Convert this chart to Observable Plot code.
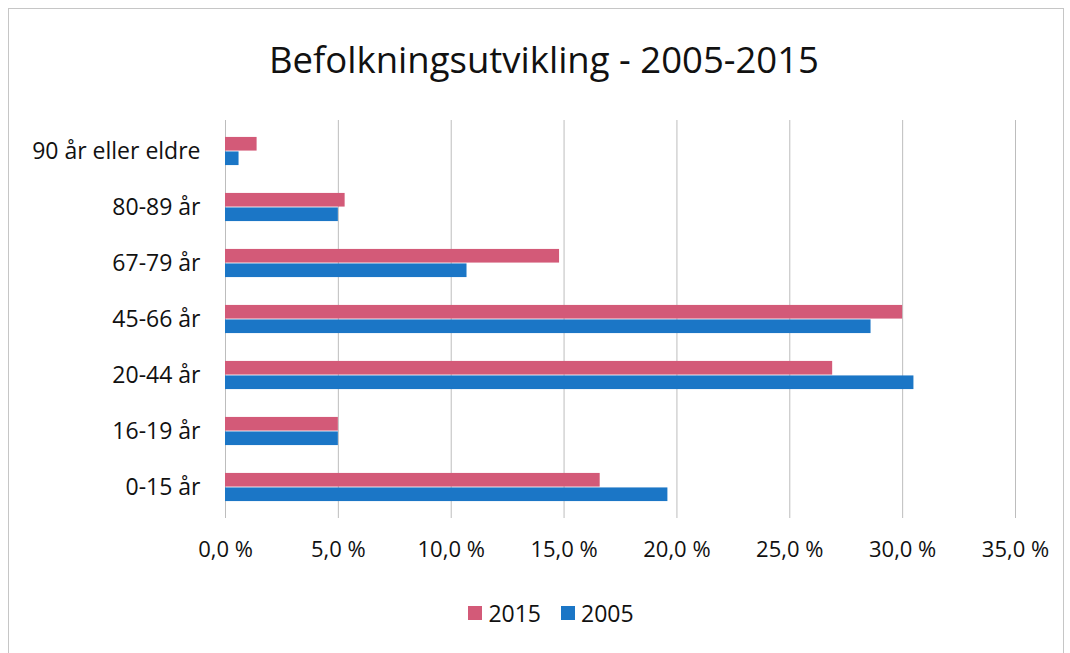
<!DOCTYPE html>
<html><head><meta charset="utf-8">
<script src="https://cdn.jsdelivr.net/npm/d3@7"></script>
<script src="https://cdn.jsdelivr.net/npm/@observablehq/plot@0.6"></script>
<style>
body{margin:0;background:#fff;font-family:"Open Sans",sans-serif;color:#111}
#wrap{position:relative;width:1070px;height:653px;overflow:hidden;background:#fff}
#frame{position:absolute;left:8px;top:8px;width:1054px;height:720px;border:1px solid #c6c6c6}
#title{position:absolute;left:0;top:0;width:1070px;height:118px;display:flex;align-items:center;justify-content:center;font-size:36.5px;padding-left:18px;box-sizing:border-box;color:#111}
#chart{position:absolute;left:0;top:100px}
#legend{position:absolute;left:0;top:593px;width:1070px;height:40px;display:flex;align-items:center;justify-content:center;gap:20px;font-size:23px;padding-left:32px;box-sizing:border-box}
.sw{display:inline-flex;align-items:center;gap:6px}
.sq{width:14px;height:14px;display:inline-block}
</style></head>
<body><div id="wrap"><div id="frame"></div><div id="title"></div><div id="chart"></div><div id="legend"></div></div>
<script>
const title = "Befolkningsutvikling - 2005-2015";
const ages = ["90 år eller eldre","80-89 år","67-79 år","45-66 år","20-44 år","16-19 år","0-15 år"];
const series = ["2015","2005"];
const v2015 = [1.4, 5.3, 14.8, 30.0, 26.9, 5.0, 16.6];
const v2005 = [0.6, 5.0, 10.7, 28.6, 30.5, 5.0, 19.6];
const xTicks = [0, 5, 10, 15, 20, 25, 30, 35];
const colors = ["#d35a78", "#1b76c6"];

document.getElementById("title").textContent = title;

const W = 1070, H = 478, mt = 20, mb = 60;
const bw = (H - mt - mb) / ages.length;
const barH = 14.5;
const d15 = ages.map((a, i) => ({age: a, value: v2015[i]}));
const d05 = ages.map((a, i) => ({age: a, value: v2005[i]}));
const fmt = d => d.toFixed(1).replace(".", ",") + " %";

const chart = Plot.plot({
  width: W, height: H,
  marginLeft: 225, marginRight: 55, marginTop: mt, marginBottom: mb,
  style: {fontFamily: "'Open Sans', sans-serif", fontSize: "22px", color: "#111", background: "transparent", overflow: "visible"},
  x: {domain: [0, 35], label: null},
  y: {domain: ages, padding: 0, label: null},
  marks: [
    Plot.gridX(xTicks, {stroke: "#bdbdbd", strokeOpacity: 1, strokeWidth: 1}),
    Plot.barX(d15, {x: "value", y: "age", fill: colors[0], insetTop: bw/2 - barH, insetBottom: bw/2}),
    Plot.barX(d05, {x: "value", y: "age", fill: colors[1], insetTop: bw/2, insetBottom: bw/2 - barH}),
    Plot.axisX({ticks: xTicks, tickFormat: fmt, tickSize: 0, tickPadding: 23, fontSize: 22, fill: "#111", label: null}),
    Plot.axisY({tickSize: 0, tickPadding: 25, fontSize: 23, fill: "#111", label: null})
  ]
});
document.getElementById("chart").appendChild(chart);

const leg = document.getElementById("legend");
series.forEach((s, i) => {
  const el = document.createElement("span");
  el.className = "sw";
  el.innerHTML = `<span class="sq" style="background:${colors[i]}"></span><span>${s}</span>`;
  leg.appendChild(el);
});
</script></body></html>
